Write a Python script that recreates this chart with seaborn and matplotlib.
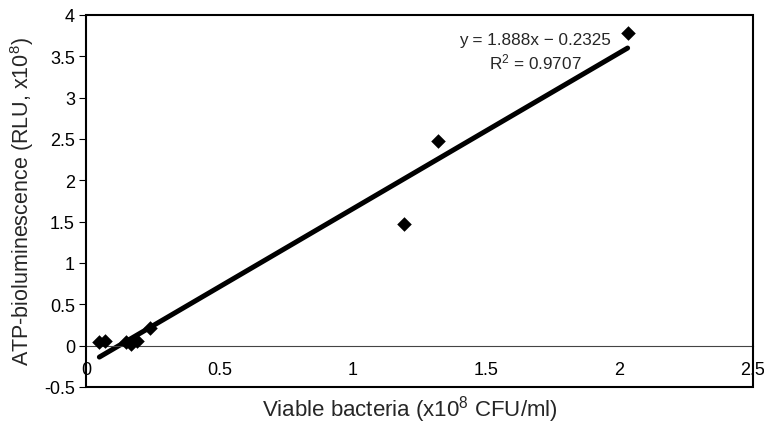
import numpy as np
import pandas as pd
import matplotlib
matplotlib.use("Agg")
import matplotlib.pyplot as plt
from matplotlib.patches import Rectangle
import seaborn as sns

# data
viable = [0.05, 0.07, 0.15, 0.17, 0.19, 0.24, 1.19, 1.32, 2.03]
atp = [0.05, 0.06, 0.05, 0.02, 0.06, 0.21, 1.47, 2.48, 3.78]
slope = 1.888
intercept = -0.2325
r_squared = 0.9707

x_ticks = [0, 0.5, 1, 1.5, 2, 2.5]
y_ticks = [-0.5, 0, 0.5, 1, 1.5, 2, 2.5, 3, 3.5, 4]

sns.set_style("white")
plt.rcParams["font.family"] = ["Liberation Sans", "DejaVu Sans"]
plt.rcParams["mathtext.fontset"] = "custom"
plt.rcParams["mathtext.rm"] = "Liberation Sans"
plt.rcParams["mathtext.it"] = "Liberation Sans"

df = pd.DataFrame({"viable": viable, "atp": atp})
fit_x = np.array([min(viable), max(viable)])
fit = pd.DataFrame({"x": fit_x, "y": slope * fit_x + intercept})

fig = plt.figure(figsize=(7.64, 4.31), dpi=100)
ax = fig.add_axes([0.1126, 0.0998, 0.873, 0.8631])

sns.lineplot(data=fit, x="x", y="y", color="black", linewidth=3.6, ax=ax)
sns.scatterplot(data=df, x="viable", y="atp", marker="D", s=55,
                color="black", edgecolor="black", linewidth=0, ax=ax, zorder=3)

ax.set_xlim(0, 2.5)
ax.set_ylim(-0.5, 4)
ax.set_xticks(x_ticks)
ax.set_xticklabels([f"{t:g}" for t in x_ticks])
ax.set_yticks(y_ticks)
ax.set_yticklabels([f"{t:g}" for t in y_ticks])

# x axis crosses at y = 0
for side in ["top", "right", "left"]:
    ax.spines[side].set_visible(False)
ax.spines["bottom"].set_position(("data", 0))
ax.spines["bottom"].set_color("#444444")
ax.spines["bottom"].set_linewidth(0.8)
ax.add_patch(Rectangle((0, 0), 1, 1, transform=ax.transAxes, fill=False,
                       edgecolor="black", linewidth=1.5, clip_on=False, zorder=5))

ax.tick_params(axis="x", direction="in", length=5, width=0.8, pad=11,
               labelsize=13, colors="black")
ax.tick_params(axis="y", direction="out", length=5, width=0.8, pad=3,
               labelsize=13, left=True, colors="black")

ax.set_xlabel("")
ax.set_ylabel("ATP-bioluminescence (RLU, x10$^8$)", fontsize=15.5, labelpad=6)
fig.text(0.537, 0.033, "Viable bacteria (x10$^8$ CFU/ml)", ha="center",
         va="baseline", fontsize=16)

ax.text(0.673, 0.935, f"y = {slope}x \u2212 {abs(intercept)}", transform=ax.transAxes,
        ha="center", va="center", fontsize=12.3)
ax.text(0.673, 0.876, f"R$^2$ = {r_squared}", transform=ax.transAxes,
        ha="center", va="center", fontsize=12.3)

fig.savefig("out.png", dpi=100)
plt.close(fig)
